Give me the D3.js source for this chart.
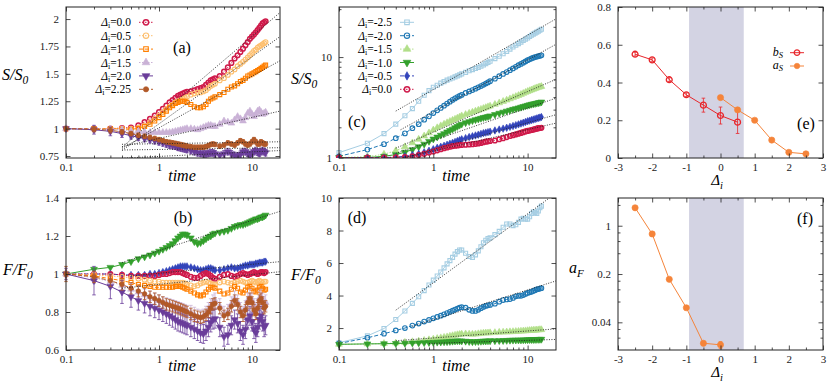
<!DOCTYPE html>
<html>
<head>
<meta charset="utf-8">
<script src="https://cdn.jsdelivr.net/npm/d3@7"></script>
<style>
  body { margin: 0; background: #fff; }
  text, tspan { font-family: "Liberation Serif" !important; }
</style>
</head>
<body>
<svg id="fig" width="830" height="381" font-family="Liberation Serif"></svg>
<script>
// shared time grid of all runs
const times = [0.1,0.2,0.3,0.4,0.5,0.6,0.7,0.8,0.9,1.0,
  1.1,1.2,1.3,1.4,1.5,1.6,1.7,1.8,1.9,2.0,
  2.2,2.4,2.6,2.8,3.0,3.2,3.4,3.6,3.8,4.0,
  4.5,5.0,5.5,6.0,6.5,7.0,7.5,8.0,8.5,9.0,9.5,10,10.5,11,11.5,12,12.5,13,13.5,14];

// (a) S/S0, delta_i >= 0
const sA00 = [1.00,1.00,1.00,1.005,1.01,1.03,1.06,1.09,1.12,1.15,
  1.18,1.21,1.24,1.26,1.28,1.30,1.31,1.32,1.33,1.335,
  1.34,1.35,1.36,1.37,1.38,1.40,1.42,1.44,1.45,1.46,
  1.48,1.52,1.56,1.60,1.64,1.67,1.70,1.73,1.76,1.79,1.82,1.84,1.86,1.88,1.90,1.92,1.94,1.96,1.97,1.98];
const sA05 = [1.00,1.00,1.00,1.00,1.00,1.01,1.03,1.06,1.09,1.12,
  1.15,1.18,1.20,1.22,1.24,1.25,1.26,1.27,1.28,1.29,
  1.31,1.32,1.33,1.33,1.34,1.35,1.37,1.39,1.40,1.41,
  1.44,1.46,1.49,1.52,1.54,1.57,1.59,1.61,1.63,1.65,1.67,1.69,1.71,1.72,1.74,1.75,1.76,1.77,1.78,1.79];
const sA10 = [1.00,1.00,1.00,0.995,0.995,1.00,1.02,1.04,1.07,1.10,
  1.13,1.16,1.19,1.21,1.23,1.24,1.25,1.25,1.25,1.24,
  1.22,1.20,1.19,1.19,1.20,1.22,1.25,1.27,1.28,1.29,
  1.31,1.33,1.36,1.38,1.39,1.41,1.43,1.44,1.46,1.48,1.49,1.50,1.51,1.52,1.53,1.54,1.55,1.56,1.57,1.58];
const sA15 = [1.00,1.00,0.995,0.99,0.98,0.975,0.97,0.965,0.965,0.965,
  0.965,0.965,0.965,0.97,0.975,0.98,0.985,0.99,0.995,1.00,
  1.00,0.995,0.99,1.00,1.01,1.02,1.03,1.03,1.02,1.02,
  1.04,1.07,1.06,1.05,1.08,1.11,1.09,1.07,1.10,1.14,1.16,1.13,1.11,1.13,1.16,1.17,1.15,1.13,1.14,1.15];
const sA20 = [1.00,0.99,0.975,0.955,0.935,0.92,0.91,0.90,0.89,0.88,
  0.87,0.86,0.85,0.845,0.84,0.83,0.825,0.82,0.815,0.81,
  0.80,0.79,0.78,0.775,0.77,0.77,0.775,0.78,0.78,0.77,
  0.755,0.77,0.79,0.77,0.755,0.75,0.765,0.79,0.79,0.775,0.76,0.775,0.79,0.80,0.785,0.775,0.79,0.80,0.79,0.78];
const sA225 = [1.00,0.995,0.985,0.97,0.955,0.94,0.93,0.92,0.91,0.90,
  0.89,0.88,0.875,0.87,0.865,0.86,0.855,0.85,0.845,0.84,
  0.835,0.83,0.83,0.83,0.83,0.835,0.845,0.855,0.86,0.855,
  0.84,0.85,0.87,0.86,0.85,0.87,0.89,0.88,0.86,0.85,0.86,0.88,0.90,0.88,0.86,0.86,0.88,0.87,0.86,0.86];
const eA20 = [0,0.04,0.04,0.035,0.03,0.03,0.03,0.03,0.03,0.03,
  0.03,0.03,0.03,0.03,0.03,0.03,0.03,0.03,0.03,0.03,
  0.03,0.03,0.03,0.03,0.03,0.03,0.03,0.03,0.03,0.03,
  0.03,0.03,0.03,0.03,0.03,0.03,0.03,0.03,0.03,0.03,0.03,0.03,0.03,0.03,0.03,0.03,0.03,0.03,0.03,0.03];
const eA225 = [0.01,0.025,0.025,0.02,0.02,0.02,0.02,0.02,0.02,0.02,
  0.02,0.02,0.02,0.02,0.02,0.02,0.02,0.02,0.02,0.02,
  0.02,0.02,0.02,0.02,0.02,0.02,0.02,0.02,0.02,0.02,
  0.02,0.02,0.02,0.02,0.02,0.02,0.02,0.02,0.02,0.02,0.02,0.02,0.02,0.02,0.02,0.02,0.02,0.02,0.02,0.02];

// (b) F/F0
const fBm10 = [1.00,1.025,1.035,1.05,1.065,1.08,1.09,1.10,1.11,1.12,
  1.13,1.14,1.15,1.16,1.175,1.19,1.20,1.21,1.21,1.205,
  1.19,1.17,1.16,1.165,1.175,1.185,1.195,1.20,1.21,1.215,
  1.22,1.225,1.23,1.24,1.25,1.255,1.26,1.26,1.265,1.27,1.275,1.28,1.285,1.29,1.29,1.295,1.30,1.30,1.305,1.31];
const fBm05 = [1.00,1.00,1.00,0.995,0.995,0.995,0.995,1.00,1.00,1.005,
  1.01,1.015,1.02,1.025,1.03,1.035,1.04,1.04,1.04,1.04,
  1.035,1.03,1.025,1.02,1.02,1.025,1.03,1.03,1.025,1.02,
  1.02,1.025,1.03,1.035,1.03,1.03,1.035,1.04,1.045,1.045,1.05,1.05,1.05,1.055,1.055,1.06,1.06,1.06,1.065,1.065];
const fB00 = [1.00,1.00,1.00,0.995,0.99,0.99,0.99,0.99,0.99,0.995,
  1.00,1.00,1.005,1.01,1.01,1.01,1.01,1.005,1.00,0.995,
  0.985,0.98,0.98,0.99,1.00,1.005,1.00,0.99,0.98,0.975,
  0.985,0.995,1.00,0.99,0.985,0.99,1.00,1.005,1.00,0.995,1.00,1.005,1.01,1.005,1.00,1.005,1.01,1.01,1.005,1.01];
const fB05 = [1.00,0.995,0.99,0.985,0.98,0.975,0.97,0.965,0.96,0.96,
  0.955,0.955,0.955,0.955,0.955,0.955,0.955,0.955,0.95,0.945,
  0.94,0.935,0.94,0.95,0.955,0.96,0.955,0.95,0.945,0.945,
  0.955,0.96,0.955,0.95,0.955,0.96,0.965,0.96,0.955,0.955,0.96,0.965,0.96,0.955,0.96,0.965,0.96,0.955,0.96,0.96];
const fB10 = [1.00,0.99,0.975,0.965,0.955,0.945,0.94,0.935,0.93,0.93,
  0.93,0.93,0.93,0.93,0.935,0.935,0.935,0.93,0.925,0.92,
  0.91,0.90,0.89,0.885,0.89,0.905,0.92,0.93,0.93,0.925,
  0.91,0.895,0.90,0.92,0.935,0.925,0.905,0.90,0.915,0.93,0.935,0.925,0.91,0.905,0.915,0.93,0.935,0.925,0.915,0.92];
const fB15 = [1.00,0.98,0.96,0.94,0.92,0.905,0.89,0.88,0.87,0.86,
  0.85,0.845,0.84,0.835,0.83,0.825,0.82,0.815,0.81,0.805,
  0.795,0.785,0.775,0.77,0.775,0.79,0.81,0.83,0.85,0.86,
  0.83,0.79,0.80,0.84,0.87,0.85,0.81,0.79,0.82,0.86,0.88,0.86,0.83,0.81,0.83,0.87,0.88,0.86,0.84,0.85];
const fB20 = [1.00,0.965,0.935,0.905,0.88,0.86,0.845,0.83,0.82,0.81,
  0.80,0.79,0.78,0.77,0.76,0.75,0.745,0.74,0.735,0.73,
  0.72,0.71,0.70,0.69,0.685,0.70,0.72,0.745,0.76,0.765,
  0.72,0.67,0.68,0.73,0.76,0.74,0.70,0.68,0.71,0.76,0.78,0.75,0.71,0.69,0.72,0.76,0.78,0.75,0.72,0.73];
const fB225 = [1.00,0.985,0.965,0.945,0.925,0.91,0.895,0.88,0.87,0.86,
  0.85,0.84,0.835,0.83,0.825,0.82,0.815,0.81,0.805,0.80,
  0.79,0.78,0.775,0.77,0.775,0.785,0.80,0.82,0.84,0.845,
  0.82,0.78,0.79,0.83,0.86,0.84,0.80,0.78,0.81,0.85,0.87,0.85,0.81,0.79,0.82,0.86,0.87,0.85,0.82,0.83];
const eB20 = [0.03,0.075,0.065,0.06,0.055,0.05,0.05,0.05,0.05,0.05,
  0.05,0.05,0.05,0.05,0.05,0.05,0.05,0.05,0.05,0.05,
  0.05,0.05,0.05,0.05,0.05,0.05,0.05,0.05,0.05,0.05,
  0.05,0.05,0.05,0.05,0.05,0.05,0.05,0.05,0.05,0.05,0.05,0.05,0.05,0.05,0.05,0.05,0.05,0.05,0.05,0.05];
const eB225 = [0.04,0.03,0.03,0.03,0.03,0.03,0.03,0.03,0.03,0.03,
  0.03,0.03,0.03,0.03,0.03,0.03,0.03,0.03,0.03,0.03,
  0.03,0.03,0.03,0.03,0.03,0.03,0.03,0.03,0.03,0.03,
  0.03,0.03,0.03,0.03,0.03,0.03,0.03,0.03,0.03,0.03,0.03,0.03,0.03,0.03,0.03,0.03,0.03,0.03,0.03,0.03];
const eB15 = [0.02,0.03,0.03,0.03,0.03,0.03,0.03,0.03,0.03,0.03,
  0.03,0.03,0.03,0.03,0.03,0.03,0.03,0.03,0.03,0.03,
  0.04,0.04,0.04,0.04,0.04,0.04,0.04,0.04,0.04,0.04,
  0.04,0.04,0.04,0.04,0.04,0.04,0.04,0.04,0.04,0.04,0.04,0.04,0.04,0.04,0.04,0.04,0.04,0.04,0.04,0.04];

// (c) S/S0, delta_i <= 0 (delta_i = 0 is sA00)
const sCm25 = [1.12,1.39,1.73,2.15,2.61,3.07,3.63,4.17,4.64,5.0,
  5.25,5.5,5.7,5.9,6.05,6.2,6.35,6.5,6.65,6.8,
  7.05,7.3,7.5,7.7,7.9,8.1,8.35,8.6,8.85,9.1,
  9.65,10.2,10.8,11.4,12.0,12.6,13.1,13.6,14.1,14.6,15.1,15.5,16.0,16.5,16.9,17.3,17.7,18.1,18.5,18.9];
const sCm20 = [1.03,1.2,1.36,1.56,1.74,1.96,2.15,2.38,2.57,2.77,
  2.95,3.12,3.28,3.45,3.6,3.75,3.88,4.0,4.1,4.2,
  4.4,4.55,4.7,4.85,5.0,5.15,5.3,5.45,5.6,5.75,
  6.1,6.45,6.8,7.1,7.4,7.7,8.0,8.3,8.55,8.8,9.05,9.3,9.5,9.7,9.85,10.0,10.1,10.2,10.3,10.4];
const sCm15 = [1.0,1.02,1.08,1.17,1.28,1.4,1.52,1.64,1.76,1.88,
  1.98,2.07,2.15,2.22,2.29,2.35,2.41,2.47,2.53,2.6,
  2.68,2.76,2.83,2.9,2.96,3.02,3.08,3.14,3.2,3.25,
  3.38,3.5,3.62,3.73,3.84,3.95,4.05,4.15,4.25,4.35,4.45,4.55,4.63,4.71,4.79,4.87,4.94,5.0,5.05,5.1];
const sCm10 = [1.0,1.0,1.03,1.07,1.13,1.2,1.28,1.36,1.45,1.53,
  1.6,1.67,1.73,1.8,1.86,1.92,1.98,2.04,2.1,2.15,
  2.22,2.28,2.33,2.38,2.42,2.46,2.5,2.53,2.56,2.6,
  2.68,2.76,2.83,2.9,2.96,3.02,3.07,3.12,3.17,3.22,3.27,3.31,3.35,3.39,3.42,3.45,3.48,3.51,3.54,3.57];
const sCm05 = [1.0,1.0,1.0,1.01,1.03,1.06,1.09,1.13,1.17,1.21,
  1.25,1.28,1.31,1.34,1.37,1.4,1.43,1.46,1.49,1.52,
  1.56,1.6,1.63,1.66,1.69,1.72,1.75,1.77,1.79,1.81,
  1.86,1.9,1.94,1.98,2.02,2.06,2.1,2.14,2.18,2.22,2.26,2.3,2.33,2.36,2.39,2.42,2.45,2.48,2.5,2.53];

// (d) F/F0, delta_i < 0 (delta_i = -1.0 is fBm10)
const fDm25 = [1.1,1.52,1.97,2.53,3.05,3.52,3.93,4.3,4.65,4.95,
  5.2,5.45,5.7,5.95,6.15,6.35,6.55,6.7,6.8,6.8,
  6.6,6.4,6.35,6.5,6.75,7.0,7.25,7.4,7.5,7.55,
  7.75,7.95,8.2,8.4,8.4,8.3,8.35,8.5,8.7,8.75,8.7,8.7,8.85,9.05,9.15,9.1,9.05,9.2,9.4,9.5];
const fDm20 = [1.05,1.4,1.65,1.85,2.0,2.15,2.28,2.4,2.5,2.6,
  2.68,2.76,2.84,2.92,3.0,3.07,3.14,3.2,3.25,3.28,
  3.25,3.12,3.05,3.05,3.12,3.22,3.3,3.36,3.4,3.42,
  3.5,3.62,3.72,3.76,3.78,3.85,3.95,3.98,3.98,4.03,4.1,4.16,4.2,4.23,4.28,4.33,4.38,4.4,4.43,4.45];
const fDm15 = [1.0,1.02,1.05,1.08,1.12,1.16,1.2,1.24,1.28,1.32,
  1.36,1.4,1.43,1.46,1.5,1.53,1.56,1.59,1.61,1.63,
  1.64,1.63,1.62,1.63,1.65,1.67,1.69,1.7,1.7,1.71,
  1.72,1.74,1.75,1.76,1.77,1.78,1.79,1.8,1.81,1.82,1.83,1.84,1.85,1.86,1.87,1.87,1.88,1.89,1.9,1.9];

// dotted fits: [t0, v0, t1, v1]
const fitsA = [[0.4,0.83,20,2.06],[0.4,0.80,20,1.84],[0.4,0.82,20,1.62],[0.4,0.835,20,1.16],
  [0.4,0.857,20,0.88],[0.4,0.805,20,0.826],[0.4,0.73,20,0.80]];
const fitsB = [[0.4,1.06,20,1.33],[0.5,0.99,20,1.065],[0.4,0.925,20,1.012]];
const fitsC = [[0.4,2.9,20,24],[0.45,1.89,20,13.4],[0.4,1.24,20,6.0],[0.4,1.1,20,3.9],[0.5,1.0,20,2.67],[0.45,0.98,20,2.2]];
const fitsD = [[0.4,3.1,17,10],[0.6,2.1,20,4.9],[0.4,1.22,20,1.95],[0.9,1.05,20,1.3]];

// (e) exponents of S
const deltaB = [-2.5,-2,-1.5,-1,-0.5,0,0.5];
const bS = [0.55,0.52,0.415,0.335,0.28,0.225,0.19];
const bSerr = [0.01,0.01,0.01,0.01,0.037,0.045,0.06];
const deltaA = [0,0.5,1,1.5,2,2.5];
const aS = [0.32,0.255,0.20,0.095,0.03,0.022];
const aSerr = [0.008,0.01,0.006,0.006,0.005,0.005];
// (f) exponent of F
const deltaF = [-2.5,-2,-1.5,-1,-0.5,0];
const aF = [1.82,0.76,0.168,0.065,0.0199,0.0189];
const aFerr = [0.08,0.03,0.008,0.004,0.0015,0.0022];
const shadeBand = [-0.92,0.68];

const labelsA = ["0.0","0.5","1.0","1.5","2.0","2.25"];
const labelsC = ["-2.5","-2.0","-1.5","-1.0","-0.5","0.0"];

// line/marker styles
const st = {
  d00:  {color:"#cf1a4a", dash:"1.5,1.5", mk:"circle", open:true, sw:1.5},
  d05:  {color:"#fdbf6f", dash:"1.5,1.5", mk:"circle", open:true},
  d10:  {color:"#ff7f00", dash:"4,2", mk:"square", open:true},
  d15:  {color:"#cab2d6", dash:"1.5,1.5", mk:"triangle", open:false},
  d20:  {color:"#6a3d9a", dash:null, mk:"triangleDown", open:false},
  d225: {color:"#b15928", dash:"4,2", mk:"circle", open:false},
  m25:  {color:"#a6cee3", dash:null, mk:"square", open:true},
  m20:  {color:"#1f78b4", dash:"4,2", mk:"circle", open:true},
  m15:  {color:"#b2df8a", dash:"1.5,1.5", mk:"triangle", open:false},
  m10:  {color:"#33a02c", dash:null, mk:"triangleDown", open:false},
  m05:  {color:"#3344bb", dash:"4,2", mk:"diamond", open:false}
};

const FONT = "Liberation Serif";
const svg = d3.select("#fig");
const defs = svg.append("defs");
const TK = 4.5, TKm = 2.5;

// every text gets the serif face both as attribute and as inline style
function txt(parent) {
  return parent.append("text").attr("font-family", FONT).style("font-family", `"${FONT}", serif`);
}

function makePanel(name, l, r, t, b, x, y) {
  const g = svg.append("g");
  defs.append("clipPath").attr("id", "clip-" + name).append("rect")
    .attr("x", l - 4).attr("y", t).attr("width", r - l + 4).attr("height", b - t);
  defs.append("clipPath").attr("id", "clipf-" + name).append("rect")
    .attr("x", l).attr("y", t).attr("width", r - l).attr("height", b - t);
  const back = g.append("g");
  const plot = g.append("g").attr("clip-path", `url(#clip-${name})`);
  const fits = g.append("g").attr("clip-path", `url(#clipf-${name})`);
  return {g, back, plot, fits, l, r, t, b, x: x.range([l, r]), y: y.range([b, t])};
}

function axes(p, o) {
  const a = p.g.append("g");
  const fmt = d => String(d);
  a.append("g").attr("transform", `translate(0,${p.b})`)
    .call(d3.axisBottom(p.x).tickValues(o.xMajor).tickFormat(fmt).tickSizeInner(-TK).tickSizeOuter(0).tickPadding(5));
  a.append("g").attr("transform", `translate(0,${p.t})`)
    .call(d3.axisTop(p.x).tickValues(o.xMajor).tickFormat("").tickSizeInner(-TK).tickSizeOuter(0));
  a.append("g").attr("transform", `translate(${p.l},0)`)
    .call(d3.axisLeft(p.y).tickValues(o.yMajor).tickFormat(fmt).tickSizeInner(-TK).tickSizeOuter(0).tickPadding(7));
  a.append("g").attr("transform", `translate(${p.r},0)`)
    .call(d3.axisRight(p.y).tickValues(o.yMajor).tickFormat("").tickSizeInner(-TK).tickSizeOuter(0));
  if (o.xMinor) {
    a.append("g").attr("transform", `translate(0,${p.b})`)
      .call(d3.axisBottom(p.x).tickValues(o.xMinor).tickFormat("").tickSizeInner(-TKm).tickSizeOuter(0));
    a.append("g").attr("transform", `translate(0,${p.t})`)
      .call(d3.axisTop(p.x).tickValues(o.xMinor).tickFormat("").tickSizeInner(-TKm).tickSizeOuter(0));
  }
  if (o.yMinor) {
    a.append("g").attr("transform", `translate(${p.l},0)`)
      .call(d3.axisLeft(p.y).tickValues(o.yMinor).tickFormat("").tickSizeInner(-TKm).tickSizeOuter(0));
    a.append("g").attr("transform", `translate(${p.r},0)`)
      .call(d3.axisRight(p.y).tickValues(o.yMinor).tickFormat("").tickSizeInner(-TKm).tickSizeOuter(0));
  }
  a.selectAll("g").attr("font-size", 11).attr("font-family", FONT);
  a.selectAll(".domain").remove();
  a.selectAll(".tick line").attr("stroke", "#222").attr("stroke-width", 0.8);
  a.selectAll(".tick text").attr("fill", "#1a1a1a").attr("font-family", FONT).style("font-family", `"${FONT}", serif`);
  p.g.append("rect").attr("x", p.l).attr("y", p.t).attr("width", p.r - p.l).attr("height", p.b - p.t)
    .attr("fill", "none").attr("stroke", "#222").attr("stroke-width", 1);
}

const symTypes = {circle: d3.symbolCircle, square: d3.symbolSquare, triangle: d3.symbolTriangle,
  triangleDown: d3.symbolTriangle, diamond: d3.symbolDiamond};
const symSize = {circle: 17, square: 16, triangle: 20, triangleDown: 20, diamond: 16};
function marker(g, kind, open, color, cx, cy, sw, scale) {
  g.append("path").attr("d", d3.symbol().type(symTypes[kind]).size(symSize[kind] * (scale || 1))())
    .attr("transform", `translate(${cx},${cy})` + (kind === "triangleDown" ? " rotate(180)" : ""))
    .attr("fill", open ? "none" : color).attr("stroke", color).attr("stroke-width", open ? (sw || 1.1) : 0.6);
}

function series(p, xs, ys, errs, s, scale) {
  const pts = xs.map((t, i) => ({t, v: ys[i], e: errs ? errs[i] : 0}));
  const g = p.plot.append("g");
  g.append("path").attr("d", d3.line().x(d => p.x(d.t)).y(d => p.y(d.v))(pts))
    .attr("fill", "none").attr("stroke", s.color).attr("stroke-width", 1)
    .attr("stroke-dasharray", s.dash);
  pts.filter(d => d.e > 0).forEach(d => {
    const cx = p.x(d.t), y0 = p.y(d.v - d.e), y1 = p.y(d.v + d.e);
    g.append("path").attr("d", `M${cx},${y0}V${y1}M${cx - 1.8},${y0}h3.6M${cx - 1.8},${y1}h3.6`)
      .attr("stroke", s.color).attr("stroke-width", 0.8).attr("fill", "none");
  });
  pts.forEach(d => marker(g, s.mk, s.open, s.color, p.x(d.t), p.y(d.v), s.sw, scale));
}

function fitLines(p, fits) {
  fits.forEach(f => {
    p.fits.append("path").attr("d", d3.line()([[p.x(f[0]), p.y(f[1])], [p.x(f[2]), p.y(f[3])]]))
      .attr("stroke", "#222").attr("stroke-width", 0.9).attr("stroke-dasharray", "1,1.5").attr("fill", "none");
  });
}

function deltaText(g, x, y, val) {
  const t = txt(g).attr("x", x).attr("y", y).attr("text-anchor", "end").attr("font-size", 11.5);
  t.append("tspan").attr("font-style", "italic").text("Δ");
  t.append("tspan").attr("font-size", 8).attr("dy", 2).text("i");
  t.append("tspan").attr("dy", -2).text("=" + val);
}

function legend(g, x, rows, labels, styles) {
  labels.forEach((lab, i) => {
    const cy = rows[i], s = styles[i];
    deltaText(g, x, cy + 4, lab);
    g.append("line").attr("x1", x + 8).attr("x2", x + 22).attr("y1", cy).attr("y2", cy)
      .attr("stroke", s.color).attr("stroke-width", 1).attr("stroke-dasharray", s.dash);
    marker(g, s.mk, s.open, s.color, x + 15, cy, s.sw, 1.3);
  });
}

function ratioLabel(x, y, a, b) {
  const t = txt(svg).attr("x", x).attr("y", y).attr("font-size", 16).attr("font-style", "italic");
  t.append("tspan").text(a + "/" + b);
  t.append("tspan").attr("font-size", 11.5).attr("dy", 4).text("0");
}
function plainLabel(x, y, s) {
  txt(svg).attr("x", x).attr("y", y).attr("text-anchor", "middle")
    .attr("font-size", 16).attr("font-style", "italic").text(s);
}
function panelTag(x, y, s) {
  txt(svg).attr("x", x).attr("y", y).attr("text-anchor", "middle").attr("font-size", 16).text(s);
}
function deltaAxisLabel(x, y) {
  const t = txt(svg).attr("x", x).attr("y", y).attr("text-anchor", "middle").attr("font-size", 15).attr("font-style", "italic");
  t.append("tspan").text("Δ");
  t.append("tspan").attr("font-size", 10.5).attr("dy", 3.5).text("i");
}

const tMajor = [0.1, 1, 10];
const tMinor = [0.2,0.3,0.4,0.5,0.6,0.7,0.8,0.9,2,3,4,5,6,7,8,9];
const rows = [22.3, 35.7, 49.1, 62.5, 75.9, 89.3];

// ---- (a)
const pA = makePanel("a", 66, 280, 7, 158, d3.scaleLog().domain([0.1, 20]), d3.scaleLinear().domain([0.732, 2.11]));
axes(pA, {xMajor: tMajor, xMinor: tMinor, yMajor: [0.75, 1, 1.25, 1.5, 1.75, 2]});
const aSets = [[sA00, null, st.d00], [sA05, null, st.d05], [sA10, null, st.d10], [sA15, null, st.d15], [sA20, eA20, st.d20], [sA225, eA225, st.d225]];
aSets.forEach(d => series(pA, times, d[0], d[1], d[2]));
fitLines(pA, fitsA);
legend(pA.g, 131, rows, labelsA, aSets.map(d => d[2]));

// ---- (b)
const pB = makePanel("b", 66, 280, 198, 350, d3.scaleLog().domain([0.1, 20]), d3.scaleLinear().domain([0.6, 1.4]));
axes(pB, {xMajor: tMajor, xMinor: tMinor, yMajor: [0.6, 0.8, 1, 1.2, 1.4]});
[[fBm10, null, st.m10], [fBm05, null, st.m05], [fB00, null, st.d00], [fB05, null, st.d05], [fB10, null, st.d10],
 [fB15, eB15, st.d15], [fB20, eB20, st.d20], [fB225, eB225, st.d225]].forEach(d => series(pB, times, d[0], d[1], d[2]));
fitLines(pB, fitsB);

// ---- (c)
const pC = makePanel("c", 339, 556, 7, 158, d3.scaleLog().domain([0.1, 20]), d3.scaleLog().domain([0.99, 31.5]));
axes(pC, {xMajor: tMajor, xMinor: tMinor, yMajor: [1, 10], yMinor: [2,3,4,5,6,7,8,9,20,30]});
const cSets = [[sCm25, st.m25], [sCm20, st.m20], [sCm15, st.m15], [sCm10, st.m10], [sCm05, st.m05], [sA00, st.d00]];
cSets.forEach(d => series(pC, times, d[0], null, d[1]));
fitLines(pC, fitsC);
legend(pC.g, 392, rows, labelsC, cSets.map(d => d[1]));

// ---- (d)
const pD = makePanel("d", 339, 556, 198, 350, d3.scaleLog().domain([0.1, 20]), d3.scaleLinear().domain([0.65, 10]));
axes(pD, {xMajor: tMajor, xMinor: tMinor, yMajor: [2, 4, 6, 8, 10]});
[[fDm25, st.m25], [fDm20, st.m20], [fDm15, st.m15], [fBm10, st.m10]].forEach(d => series(pD, times, d[0], null, d[1]));
fitLines(pD, fitsD);

// ---- (e)
const dMajor = [-3, -2, -1, 0, 1, 2, 3];
const dMinor = [-2.5, -1.5, -0.5, 0.5, 1.5, 2.5];
const pE = makePanel("e", 618, 823, 7, 158, d3.scaleLinear().domain([-3, 3]), d3.scaleLinear().domain([0, 0.8]));
pE.back.append("rect").attr("x", pE.x(shadeBand[0])).attr("width", pE.x(shadeBand[1]) - pE.x(shadeBand[0]))
  .attr("y", pE.t).attr("height", pE.b - pE.t).attr("fill", "#d3d3e3");
axes(pE, {xMajor: dMajor, xMinor: dMinor, yMajor: [0, 0.2, 0.4, 0.6, 0.8]});
const stB = {color: "#e8262b", dash: null, mk: "circle", open: true, sw: 1.3};
const stA = {color: "#f5843a", dash: null, mk: "circle", open: false};
series(pE, deltaB, bS, bSerr, stB, 1.6);
series(pE, deltaA, aS, aSerr, stA, 1.8);
[[stB, "b", 52.7], [stA, "a", 66]].forEach(([s, ch, cy]) => {
  const t = txt(pE.g).attr("x", 783).attr("y", cy + 3).attr("text-anchor", "end").attr("font-size", 12).attr("font-style", "italic");
  t.append("tspan").text(ch);
  t.append("tspan").attr("font-size", 8.5).attr("dy", 2).text("S");
  pE.g.append("line").attr("x1", 790).attr("x2", 804).attr("y1", cy).attr("y2", cy).attr("stroke", s.color);
  marker(pE.g, s.mk, s.open, s.color, 797, cy, s.sw, 1.4);
});

// ---- (f)
const pF = makePanel("f", 618, 823, 198, 350, d3.scaleLinear().domain([-3, 3]), d3.scaleLog().domain([0.0159, 2.52]));
pF.back.append("rect").attr("x", pF.x(shadeBand[0])).attr("width", pF.x(shadeBand[1]) - pF.x(shadeBand[0]))
  .attr("y", pF.t).attr("height", pF.b - pF.t).attr("fill", "#d3d3e3");
axes(pF, {xMajor: dMajor, xMinor: dMinor, yMajor: [0.04, 0.2, 1], yMinor: [0.024,0.032,0.08,0.12,0.16,0.4,0.6,0.8,2]});
series(pF, deltaF, aF, aFerr, stA, 1.8);

// ---- axis titles and tags
ratioLabel(2, 80, "S", "S");
ratioLabel(3, 275, "F", "F");
ratioLabel(291, 84, "S", "S");
ratioLabel(291, 280, "F", "F");
{
  const t = txt(svg).attr("x", 569).attr("y", 273).attr("font-size", 16).attr("font-style", "italic");
  t.append("tspan").text("a");
  t.append("tspan").attr("font-size", 11).attr("dy", 4).text("F");
}
plainLabel(182, 181, "time");
plainLabel(182, 371, "time");
plainLabel(456, 181, "time");
plainLabel(456, 371, "time");
deltaAxisLabel(717, 185);
deltaAxisLabel(717, 377);
panelTag(182, 53, "(a)");
panelTag(183, 223, "(b)");
panelTag(357, 127, "(c)");
panelTag(357, 223, "(d)");
panelTag(806, 129, "(e)");
panelTag(805, 224, "(f)");
</script>
</body>
</html>
